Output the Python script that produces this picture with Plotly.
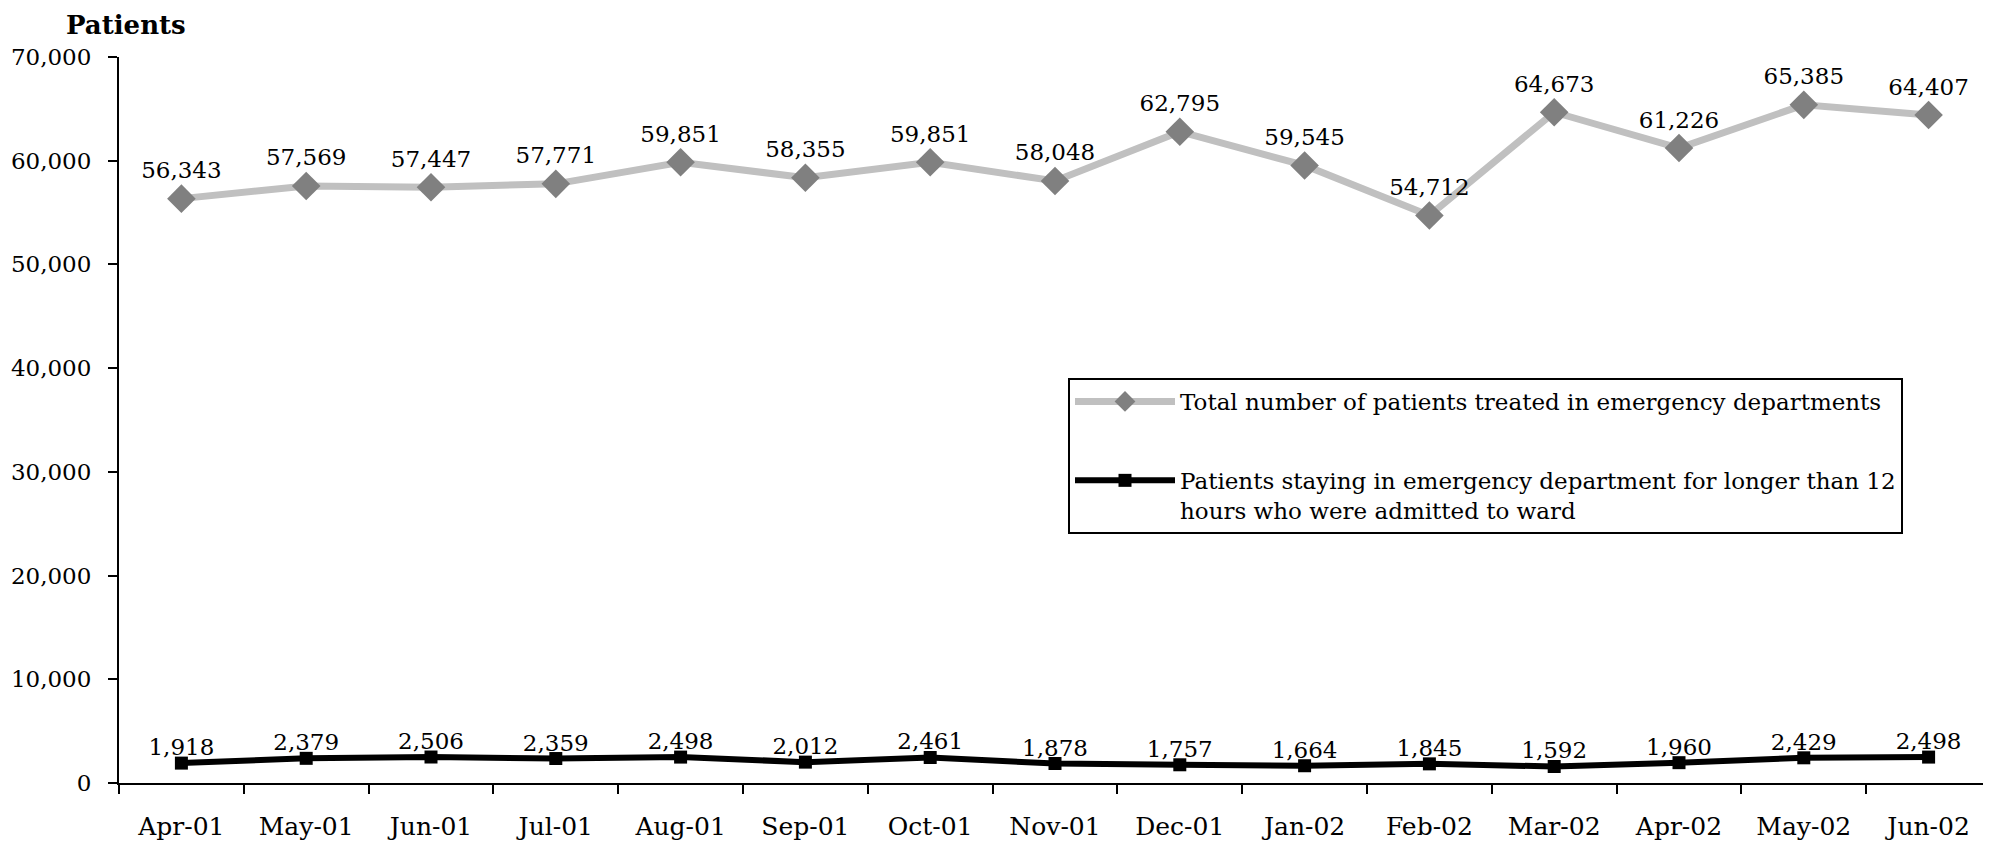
import plotly.graph_objects as go

months = ["Apr-01", "May-01", "Jun-01", "Jul-01", "Aug-01", "Sep-01", "Oct-01", "Nov-01",
          "Dec-01", "Jan-02", "Feb-02", "Mar-02", "Apr-02", "May-02", "Jun-02"]
total_patients = [56343, 57569, 57447, 57771, 59851, 58355, 59851, 58048,
                  62795, 59545, 54712, 64673, 61226, 65385, 64407]
over_12_hours = [1918, 2379, 2506, 2359, 2498, 2012, 2461, 1878,
                 1757, 1664, 1845, 1592, 1960, 2429, 2498]
y_ticks = [0, 10000, 20000, 30000, 40000, 50000, 60000, 70000]

num_font = "DejaVu Serif, serif"

W, H = 1983, 837
ML, MR, MT, MB = 111, 0, 49, 62
PW, PH = W - ML - MR, H - MT - MB

fig = go.Figure()
fig.add_trace(go.Scatter(
    x=months, y=total_patients, mode="lines+markers+text",
    name="Total number of patients treated in emergency departments",
    line=dict(color="#C0C0C0", width=7),
    marker=dict(symbol="diamond", size=22, color="#808080"),
    text=[f"{v:,}" for v in total_patients], textposition="top center",
    textfont=dict(family=num_font, size=23, color="black"),
    legendgroup="a", cliponaxis=False,
))
fig.add_trace(go.Scatter(
    x=months, y=over_12_hours, mode="lines+markers",
    name="Patients staying in emergency department for longer than 12<br>hours who were admitted to ward",
    line=dict(color="black", width=6),
    marker=dict(symbol="square", size=13, color="black"),
    legendgroup="b", cliponaxis=False,
))
fig.add_trace(go.Scatter(
    x=months, y=over_12_hours, mode="markers+text",
    marker=dict(size=2, opacity=0),
    text=[f"{v:,}" for v in over_12_hours], textposition="top center",
    textfont=dict(family=num_font, size=23, color="black"),
    showlegend=False, hoverinfo="skip", cliponaxis=False,
))

fig.update_layout(
    width=W, height=H,
    margin=dict(l=ML, r=MR, t=MT, b=MB),
    paper_bgcolor="white", plot_bgcolor="white",
    font=dict(family=num_font, color="black"),
    showlegend=True,
    legend=dict(
        x=(1068 - 8 - ML) / PW, y=1 - (378 - 8 - MT) / PH, xanchor="left", yanchor="top",
        bordercolor="black", borderwidth=2, bgcolor="white",
        font=dict(family=num_font, size=23, color="black"),
        tracegroupgap=46, itemwidth=100, valign="top",
    ),
    annotations=[dict(
        text="<b>Patients</b>", xref="paper", yref="paper",
        x=(64 - 8 - ML) / PW, y=1 + (MT - (25 - 8)) / PH, xanchor="left", yanchor="middle",
        showarrow=False, font=dict(family="DejaVu Serif, serif", size=26, color="black"))],
)

fig.update_xaxes(
    type="category", range=[-0.5, 14.5],
    showline=True, linecolor="black", linewidth=2,
    ticks="outside", tickson="boundaries", ticklen=9, tickwidth=2, tickcolor="black",
    tickfont=dict(family=num_font, size=25, color="black"),
    showgrid=False, zeroline=False, ticklabelstandoff=20,
)
fig.update_yaxes(
    range=[0, 70000], tickvals=y_ticks, tickformat=",",
    showline=True, linecolor="black", linewidth=2,
    ticks="outside", ticklen=9, tickwidth=2, tickcolor="black",
    tickfont=dict(family=num_font, size=23, color="black"),
    showgrid=False, zeroline=False, ticklabelstandoff=12,
)

fig.write_html("out.html")
